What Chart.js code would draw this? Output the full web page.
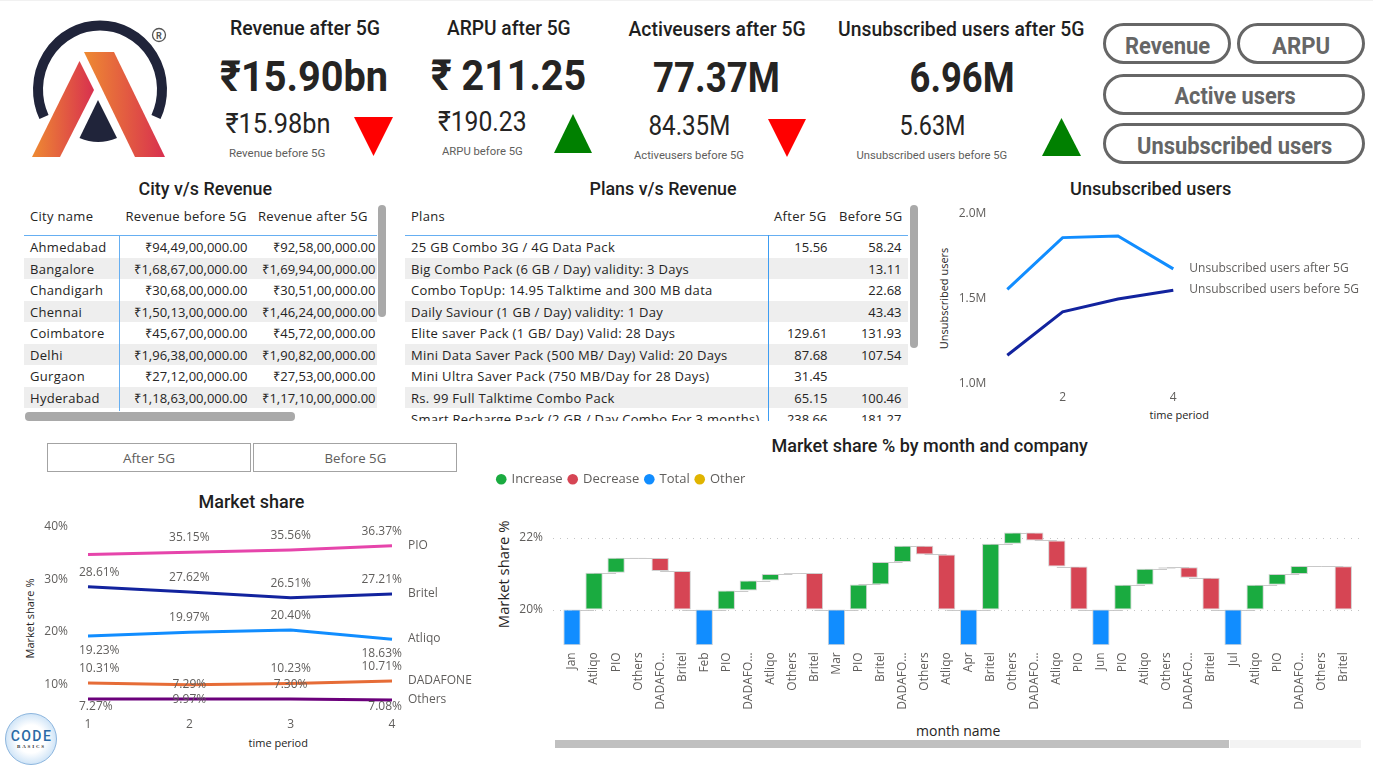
<!DOCTYPE html>
<html><head><meta charset="utf-8">
<script src="https://cdn.jsdelivr.net/npm/chart.js@4"></script>
<style>
html,body{margin:0;padding:0;background:#fff;width:1373px;height:768px;overflow:hidden}
#page{position:relative;width:1373px;height:768px;overflow:hidden;font-family:"Open Sans",sans-serif}
.t{position:absolute;white-space:nowrap;line-height:1;transform-origin:center center}
.box{position:absolute;box-sizing:border-box}
canvas{position:absolute;display:block}
table{border-collapse:collapse;table-layout:fixed;font-size:13px;color:#252423;position:absolute;left:0;top:0}
td,th{padding:0;font-weight:400;white-space:nowrap;overflow:hidden}
td{line-height:20.5px;height:21.5px;padding-top:1px;box-sizing:border-box;letter-spacing:.3px}
td.n{letter-spacing:0;text-align:right}
tbody tr:nth-child(even){background:#eee}
th{height:30.3px;text-align:left;padding-left:6px;line-height:20px;vertical-align:top;letter-spacing:.3px}
</style></head><body>
<div id="page"></div>
<script>
/* ---------- data ---------- */
const kpiTitles=["Revenue after 5G","ARPU after 5G","Activeusers after 5G","Unsubscribed users after 5G"];
const kpiAfter=["₹15.90bn","₹ 211.25","77.37M","6.96M"];
const kpiBefore=["₹15.98bn","₹190.23","84.35M","5.63M"];
const kpiCaptions=["Revenue before 5G","ARPU before 5G","Activeusers before 5G","Unsubscribed users before 5G"];
const buttonLabels=["Revenue","ARPU","Active users","Unsubscribed users"];
const sliceLabels=["After 5G","Before 5G"];

const cityNames=["Ahmedabad","Bangalore","Chandigarh","Chennai","Coimbatore","Delhi","Gurgaon","Hyderabad"];
const cityBefore=["₹94,49,00,000.00","₹1,68,67,00,000.00","₹30,68,00,000.00","₹1,50,13,00,000.00","₹45,67,00,000.00","₹1,96,38,00,000.00","₹27,12,00,000.00","₹1,18,63,00,000.00"];
const cityAfter=["₹92,58,00,000.00","₹1,69,94,00,000.00","₹30,51,00,000.00","₹1,46,24,00,000.00","₹45,72,00,000.00","₹1,90,82,00,000.00","₹27,53,00,000.00","₹1,17,10,00,000.00"];

const planNames=["25 GB Combo 3G / 4G Data Pack","Big Combo Pack (6 GB / Day) validity: 3 Days","Combo TopUp: 14.95 Talktime and 300 MB data","Daily Saviour (1 GB / Day) validity: 1 Day","Elite saver Pack (1 GB/ Day) Valid: 28 Days","Mini Data Saver Pack (500 MB/ Day) Valid: 20 Days","Mini Ultra Saver Pack (750 MB/Day for 28 Days)","Rs. 99 Full Talktime Combo Pack","Smart Recharge Pack (2 GB / Day Combo For 3 months)"];
const planAfter=["15.56","","","","129.61","87.68","31.45","65.15","238.66"];
const planBefore=["58.24","13.11","22.68","43.43","131.93","107.54","","100.46","181.27"];

const periods=["1","2","3","4"];
const unsubAfter=[1.553,1.857,1.867,1.673];
const unsubBefore=[1.165,1.42,1.496,1.547];
const unsubTicks=[1,1.5,2];

const sharePIO=[34.7,35.15,35.56,36.37];
const shareBritel=[28.61,27.62,26.51,27.21];
const shareAtliqo=[19.23,19.97,20.40,18.63];
const shareDadafone=[10.31,9.97,10.23,10.71];
const shareOthers=[7.27,7.29,7.30,7.08];
const shareTicks=[10,20,30,40];

const wfCategories=["Jan","Atliqo","PIO","Others","DADAFO...","Britel","Feb","PIO","DADAFO...","Atliqo","Others","Britel","Mar","PIO","Britel","DADAFO...","Others","Atliqo","Apr","Britel","Others","DADAFO...","Atliqo","PIO","Jun","PIO","Atliqo","Others","DADAFO...","Britel","Jul","Atliqo","PIO","DADAFO...","Others","Britel"];
const wfFrom=[19,20,21.03,21.45,21.44,21.08,19,20,20.53,20.81,20.99,21.02,19,20,20.70,21.33,21.78,21.54,19,20,21.84,22.15,21.93,21.20,19,20,20.69,21.14,21.18,20.89,19,20,20.69,20.99,21.22,21.21];
const wfTo=[20,21.03,21.45,21.44,21.08,20,20,20.53,20.81,20.99,21.02,20,20,20.70,21.33,21.78,21.54,20,20,21.84,22.15,21.93,21.20,20,20,20.69,21.14,21.18,20.89,20,20,20.69,20.99,21.22,21.21,20];
const wfTicks=[20,22];
const wfMonths=["Jan","Feb","Mar","Apr","Jun","Jul"];

/* ---------- helpers ---------- */
const page=document.getElementById('page');
const BODY='"Open Sans",sans-serif', HEAD='Roboto,sans-serif';
function txt(s,cx,cy,size,o={}){
  const d=document.createElement('div');d.className='t';d.textContent=s;
  d.style.font=(o.weight||400)+' '+size+'px '+(o.font||HEAD);
  d.style.lineHeight='1';d.style.color=o.color||'#252423';
  page.appendChild(d);
  const w=d.offsetWidth,h=d.offsetHeight;
  d.style.left=(cx-w/2)+'px';d.style.top=(cy-h/2)+'px';
  let tf='';
  if(o.w)tf+='scaleX('+(o.w/w)+')';
  if(o.rot)tf+=' rotate('+o.rot+'deg)';
  if(tf)d.style.transform=tf;
  return d;
}
function box(x,y,w,h,css){const d=document.createElement('div');d.className='box';
  Object.assign(d.style,{left:x+'px',top:y+'px',width:w+'px',height:h+'px'},css||{});page.appendChild(d);return d;}
function tri(x0,x1,y0,y1,up,color){
  const ns='http://www.w3.org/2000/svg',s=document.createElementNS(ns,'svg');
  s.setAttribute('width',x1-x0);s.setAttribute('height',y1-y0);
  s.style.cssText='position:absolute;left:'+x0+'px;top:'+y0+'px';
  const w=x1-x0,h=y1-y0,p=document.createElementNS(ns,'polygon');
  p.setAttribute('points',up?`${w/2},0 ${w},${h} 0,${h}`:`0,0 ${w},0 ${w/2},${h}`);
  p.setAttribute('fill',color);s.appendChild(p);page.appendChild(s);
}

/* top hairline */
box(0,0,1373,1,{background:'#f1f1f1'});

/* ---------- logos ---------- */
page.insertAdjacentHTML('beforeend',`
<svg style="position:absolute;left:0;top:0" width="190" height="170" viewBox="0 0 190 170">
 <defs>
  <linearGradient id="gl" x1="0" y1="0" x2="1" y2="0"><stop offset="0" stop-color="#ee8a32"/><stop offset="1" stop-color="#d8304f"/></linearGradient>
 </defs>
 <path d="M44 117 A62 64 0 1 1 156 117" fill="none" stroke="#20243a" stroke-width="10"/>
 <polygon points="79.5,61 94,90 60,157 32,157" fill="url(#gl)"/>
 <polygon points="84,52 114,52 165,157 135,157" fill="url(#gl)"/>
 <path d="M98 100 L117 138 Q98 146 79.5 138 Z" fill="#20243a"/>
 <circle cx="159" cy="35" r="6.5" fill="none" stroke="#555" stroke-width="1.3"/>
 <text x="159" y="38.5" text-anchor="middle" font-family="Roboto" font-size="9" font-weight="700" fill="#555">R</text>
</svg>
<svg style="position:absolute;left:0;top:708" width="62" height="60" viewBox="0 0 62 60">
 <defs><radialGradient id="cb"><stop offset="0.55" stop-color="#ffffff"/><stop offset="1" stop-color="#cfe4f7"/></radialGradient></defs>
 <circle cx="31" cy="31" r="25.5" fill="url(#cb)" stroke="#8db6de" stroke-width="1"/>
 <text x="31.5" y="32.5" text-anchor="middle" font-family="Roboto" font-size="14" font-weight="500" letter-spacing="1.4" fill="#2a6aa5">CODE</text>
 <text x="31.5" y="40" text-anchor="middle" font-family="Liberation Serif" font-size="5" font-weight="700" letter-spacing="1.8" fill="#333">BASICS</text>
</svg>`);

/* ---------- KPI cards ---------- */
const titleGeom=[[305,29,150],[509,29,124],[716.5,30,177],[961,30,246]];
const bigGeom=[[304,76,168],[508.5,75,155],[716.5,77,127],[961.5,77,105]];
const subGeom=[[277.5,124,105],[482.5,122,89],[689,126,82],[932,126,66]];
const capGeom=[[277,153,96],[482.5,151,81],[689,155,110],[931.5,155,151]];
kpiTitles.forEach((s,i)=>txt(s,titleGeom[i][0],titleGeom[i][1],19.5,{weight:500,w:titleGeom[i][2],color:'#1f1f1f'}));
kpiAfter.forEach((s,i)=>txt(s,bigGeom[i][0],bigGeom[i][1],43,{weight:700,w:bigGeom[i][2],color:'#252423'}));
kpiBefore.forEach((s,i)=>txt(s,subGeom[i][0],subGeom[i][1],28,{weight:400,w:subGeom[i][2],color:'#252423'}));
kpiCaptions.forEach((s,i)=>txt(s,capGeom[i][0],capGeom[i][1],11,{weight:400,w:capGeom[i][2],color:'#605E5C'}));
tri(354,393,117,156,false,'#ff0000');
tri(554,592,114,153,true,'#008000');
tri(768,806,119,157,false,'#ff0000');
tri(1042,1081,118,156,true,'#008000');

/* ---------- pill buttons ---------- */
[[1103,23,128,41],[1237,23,128,41],[1103,74,262,41],[1103,123,262,41]].forEach(g=>
  box(g[0],g[1],g[2],g[3],{border:'3px solid #666',borderRadius:'21px'}));
const btnGeom=[[1167.5,46,85],[1301,46,58],[1234.5,96,121],[1234.5,146,195]];
buttonLabels.forEach((s,i)=>txt(s,btnGeom[i][0],btnGeom[i][1],23,{weight:700,w:btnGeom[i][2],color:'#666'}));

/* ---------- slicer ---------- */
box(47,443,204,29,{border:'1.5px solid #a3a3a3'});
box(253,443,204,29,{border:'1.5px solid #a3a3a3'});
txt(sliceLabels[0],149,458,13,{font:BODY,color:'#605E5C',w:52});
txt(sliceLabels[1],355,458,13,{font:BODY,color:'#605E5C',w:62});

/* ---------- section titles ---------- */
txt("City v/s Revenue",205,190,17.5,{weight:500,w:134,color:'#1f1f1f'});
txt("Plans v/s Revenue",662.5,190,17.5,{weight:500,w:147,color:'#1f1f1f'});
txt("Unsubscribed users",1150.5,190,17.5,{weight:500,w:161,color:'#1f1f1f'});
txt("Market share",251,503,17.5,{weight:500,w:106,color:'#1f1f1f'});
txt("Market share % by month and company",929,447,17.5,{weight:500,w:316,color:'#1f1f1f'});

/* ---------- tables ---------- */
function makeTable(left,top,width,height,cols,heads,rows,padR){
  const wrap=box(left,top,width,height,{overflow:'hidden'});
  const tb=document.createElement('table');tb.style.width=cols.reduce((a,b)=>a+b,0)+'px';
  tb.innerHTML='<colgroup>'+cols.map(c=>`<col style="width:${c}px">`).join('')+'</colgroup><thead><tr>'+heads.map(h=>`<th>${h}</th>`).join('')+'</tr></thead><tbody>'+
    rows.map(r=>'<tr>'+r.map((c,i)=>i==0?`<td style="padding-left:6px">${c}</td>`:`<td class="n" style="padding-right:${padR[i-1]}px">${c}</td>`).join('')+'</tr>').join('')+'</tbody>';
  wrap.appendChild(tb);
}
makeTable(24,206,353,205,[95.5,132.5,125],["City name","Revenue before 5G","Revenue after 5G"],
  cityNames.map((c,i)=>[c,cityBefore[i],cityAfter[i]]),[4.5,1.5]);
makeTable(405,206,503,215,[363,65,75],["Plans","After 5G","Before 5G"],
  planNames.map((c,i)=>[c,planAfter[i],planBefore[i]]),[5.5,6.5]);
box(24,235,353,1.2,{background:'#66aff2'});
box(119,235,1,176,{background:'#66aff2'});
box(405,235,503,1.2,{background:'#66aff2'});
box(768,235,1,186,{background:'#3c9cf2'});
/* scrollbars */
box(378,205,8,112,{background:'#a9a9a9',borderRadius:'4px'});
box(25,412,270,8.5,{background:'#a9a9a9',borderRadius:'4px'});
box(910,205,8,143,{background:'#a9a9a9',borderRadius:'4px'});
box(555,740,674,8,{background:'#c0c0c0'});
box(1229.5,740,131.5,8,{background:'#f3f3f3'});

/* ---------- axis titles ---------- */
txt("time period",278,742,11,{font:BODY,color:'#252423',weight:500});
txt("Market share %",30,618,11,{font:BODY,color:'#252423',weight:500,rot:-90});
txt("time period",1179,414,11,{font:BODY,color:'#252423',weight:500});
txt("Unsubscribed users",944,298,11,{font:BODY,color:'#252423',weight:500,rot:-90});
txt("month name",958,731,14,{font:BODY,color:'#252423',weight:500});
txt("Market share %",503.5,574,14.8,{font:BODY,color:'#252423',weight:500,rot:-90});

/* ---------- charts ---------- */
Chart.defaults.font.family='"Open Sans",sans-serif';
Chart.defaults.color='#605E5C';
Chart.defaults.animation=false;

function canvasAt(x,y,w,h){const c=document.createElement('canvas');c.width=w;c.height=h;
  c.style.cssText=`left:${x}px;top:${y}px;width:${w}px;height:${h}px`;page.appendChild(c);return c;}

const lineLabels={id:'lineLabels',afterDatasetsDraw(ch){
  const ctx=ch.ctx,bottom=ch.chartArea.bottom-4.5;
  ch.data.datasets.forEach((ds,di)=>{
    const pts=ch.getDatasetMeta(di).data;ctx.save();ctx.fillStyle='#605E5C';ctx.textBaseline='middle';
    ctx.font='12px "Open Sans"';
    if(ds.endLabel){ctx.textAlign='left';const p=pts[pts.length-1];ctx.fillText(ds.endLabel,p.x+ds.endDx,p.y-.5);}
    if(ds.values){ds.values.forEach((v,i)=>{
      if(ds.sides[i]===0)return;
      const p=pts[i];let x=p.x;ctx.textAlign='center';
      if(i===0){ctx.textAlign='left';x=p.x-9;}
      if(i===pts.length-1){ctx.textAlign='right';x=p.x+10;}
      ctx.fillText(v.toFixed(2)+'%',x,Math.min(p.y+ds.sides[i]*14.5,bottom));
    });}
    ctx.restore();
  });
}};

/* fix the width of a value axis and drop the tick-padding it would add above and below the plot */
const fitY=w=>function(s){s.width=w;s.paddingTop=0;s.paddingBottom=0;};

/* unsubscribed users */
new Chart(canvasAt(920,195,453,225),{type:'line',
  data:{labels:periods,datasets:[
    {label:'Unsubscribed users after 5G',data:unsubAfter,borderColor:'#118DFF',endLabel:'Unsubscribed users after 5G',endDx:16},
    {label:'Unsubscribed users before 5G',data:unsubBefore,borderColor:'#12239E',endLabel:'Unsubscribed users before 5G',endDx:16}]},
  options:{responsive:false,devicePixelRatio:1,
    elements:{point:{radius:0},line:{borderWidth:3,tension:0}},
    layout:{padding:{top:18.3,right:199.7,left:0,bottom:0}},
    plugins:{legend:{display:false},tooltip:{enabled:false}},
    scales:{
      x:{offset:false,grid:{display:false,drawTicks:false},border:{display:false},
        afterFit(s){s.height=225-188.3;},
        ticks:{maxRotation:0,autoSkip:false,padding:7,font:{size:12},callback(v,i){return i%2?periods[i]:'';}}},
      y:{min:1,max:2,grid:{display:false,drawTicks:false},border:{display:false},
        afterFit:fitY(87.3),
        afterBuildTicks(s){s.ticks=unsubTicks.map(v=>({value:v}));},
        ticks:{padding:21,font:{size:12},callback(v){return v.toFixed(1)+'M';}}}
    }},plugins:[lineLabels]});

/* market share */
const shareSeries=[
  ['PIO',sharePIO,'#E645AB',[0,-1,-1,-1]],
  ['Britel',shareBritel,'#12239E',[-1,-1,-1,-1]],
  ['Atliqo',shareAtliqo,'#118DFF',[1,-1,-1,1]],
  ['DADAFONE',shareDadafone,'#E66C37',[-1,1,-1,-1]],
  ['Others',shareOthers,'#6B007B',[1,-1,-1,1]]];
new Chart(canvasAt(0,510,480,226),{type:'line',
  data:{labels:periods,datasets:shareSeries.map(s=>({label:s[0],data:s[1],values:s[1],borderColor:s[2],sides:s[3],endLabel:s[0],endDx:16}))},
  options:{responsive:false,devicePixelRatio:1,
    elements:{point:{radius:0},line:{borderWidth:3,tension:0}},
    layout:{padding:{top:16.7,right:88,left:0,bottom:0}},
    plugins:{legend:{display:false},tooltip:{enabled:false}},
    scales:{
      x:{offset:false,grid:{display:false,drawTicks:false},border:{display:false},
        afterFit(s){s.height=226-201;},
        ticks:{maxRotation:0,autoSkip:false,padding:6,font:{size:12}}},
      y:{min:5,max:40,grid:{display:false,drawTicks:false},border:{display:false},
        afterFit:fitY(88),
        afterBuildTicks(s){s.ticks=shareTicks.map(v=>({value:v}));},
        ticks:{padding:20,font:{size:12},callback(v){return v+'%';}}}
    }},plugins:[lineLabels]});

/* waterfall */
const kindOf=i=>wfMonths.includes(wfCategories[i])?'Total':(wfTo[i]>=wfFrom[i]?'Increase':'Decrease');
const wfSet=(name,color)=>({label:name,backgroundColor:color,borderColor:'rgba(205,205,205,.95)',borderWidth:1,borderSkipped:false,
  barPercentage:.786,categoryPercentage:1,grouped:false,
  data:wfCategories.map((c,i)=>kindOf(i)===name?[wfFrom[i],wfTo[i]]:null)});
const wfExtras={id:'wfExtras',beforeDatasetsDraw(ch){
  const ctx=ch.ctx,x=ch.scales.x,y=ch.scales.y,a=ch.chartArea;
  ctx.save();ctx.strokeStyle='#c9c9c9';ctx.lineWidth=1;
  ctx.setLineDash([]);
  wfTo.forEach((v,i)=>{if(i===wfTo.length-1)return;
    const py=Math.round(y.getPixelForValue(v))+.5;
    ctx.beginPath();ctx.moveTo(x.getPixelForValue(i),py);ctx.lineTo(x.getPixelForValue(i+1),py);ctx.stroke();});
  ctx.strokeStyle='#c4c4c4';ctx.setLineDash([1,6]);
  wfTicks.forEach(v=>{const py=Math.round(y.getPixelForValue(v))+.5;
    ctx.beginPath();ctx.moveTo(a.left-8,py);ctx.lineTo(a.right+7,py);ctx.stroke();});
  ctx.restore();
}};
const WF_TOP=435, WF_BOTTOM_PX=645.3, WF_PER_UNIT=35.77;
const wf=new Chart(canvasAt(490,WF_TOP,883,300),{type:'bar',
  data:{labels:wfCategories,datasets:[wfSet('Increase','#1AAB40'),wfSet('Decrease','#D64554'),wfSet('Total','#118DFF'),wfSet('Other','#E0B400')]},
  options:{responsive:false,devicePixelRatio:1,
    layout:{padding:{top:31.5,left:1.2,right:18.7,bottom:0}},
    plugins:{tooltip:{enabled:false},
      legend:{display:true,position:'top',align:'start',
        labels:{usePointStyle:true,pointStyle:'circle',boxWidth:7.5,boxHeight:7.5,padding:6.3,font:{size:13},color:'#605E5C',
          generateLabels(ch){return ch.data.datasets.map((d,i)=>({text:d.label,fillStyle:d.backgroundColor,strokeStyle:d.backgroundColor,lineWidth:0,pointStyle:'circle',datasetIndex:i,fontColor:'#605E5C'}));}}}},
    scales:{
      x:{grid:{display:false,drawTicks:false},border:{display:false},
        afterFit(s){s.height=300-(WF_BOTTOM_PX-WF_TOP);},
        ticks:{autoSkip:false,minRotation:90,maxRotation:90,padding:7,font:{size:12}}},
      y:{min:19,max:23,grid:{display:false,drawTicks:false},border:{display:false},
        afterFit:fitY(69.8),
        afterBuildTicks(s){s.ticks=wfTicks.map(v=>({value:v}));},
        ticks:{padding:18,font:{size:12},callback(v){return v+'%';}}}
    }},plugins:[wfExtras]});
/* align the value scale so 1% spans the same height as in the reference */
wf.options.scales.y.max=19+(WF_BOTTOM_PX-WF_TOP-wf.chartArea.top)/WF_PER_UNIT;
wf.update('none');
</script>
</body></html>
